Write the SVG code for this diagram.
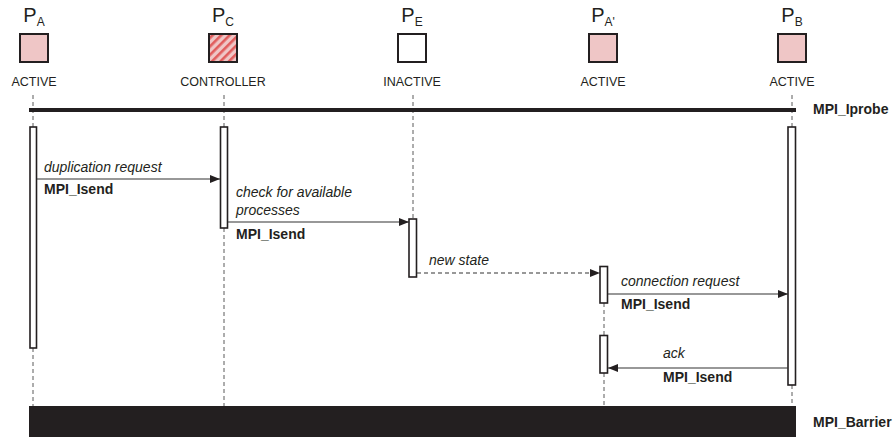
<svg xmlns="http://www.w3.org/2000/svg" width="893" height="437" viewBox="0 0 893 437">
  <style>
    .proc { stroke: #231f20; stroke-width: 2; }
    .active { fill: #efc6c6; }
    .idle { fill: #ffffff; }
    .pname { font-family: "Liberation Sans", Arial, sans-serif; font-size: 20px; fill: #231f20; }
    .state { font-family: "Liberation Sans", Arial, sans-serif; font-size: 12.5px; fill: #231f20; }
    .msg { font-family: "Liberation Sans", Arial, sans-serif; font-size: 14px; font-style: italic; fill: #231f20; }
    .call { font-family: "Liberation Sans", Arial, sans-serif; font-size: 14px; font-weight: bold; fill: #231f20; }
    .life { stroke: #5a5a5a; stroke-width: 1; stroke-dasharray: 4 3; fill: none; }
    .bar { fill: #ffffff; stroke: #231f20; stroke-width: 1.6; }
    .arrow { stroke: #333333; stroke-width: 1.2; fill: none; marker-end: url(#head); }
    .dashed { stroke-dasharray: 4 3; }
  </style>
  <defs>
    <marker id="head" viewBox="0 0 10 8" refX="10" refY="4" markerWidth="10" markerHeight="8" markerUnits="userSpaceOnUse" orient="auto">
      <path d="M0,0 L10,4 L0,8 Z" fill="#231f20"/>
    </marker>
    <pattern id="hatch" width="6" height="6" patternUnits="userSpaceOnUse" patternTransform="rotate(45)">
      <rect width="6" height="6" fill="#efc6c6"/>
      <rect width="2.6" height="6" fill="#e05c5c"/>
    </pattern>
  </defs>

  <!-- processes -->
  <g id="pa">
    <text class="pname" x="34" y="22" text-anchor="middle">P<tspan font-size="12" dy="4">A</tspan></text>
    <rect class="proc active" x="20" y="34" width="28" height="28"/>
    <text class="state" x="34" y="86" text-anchor="middle">ACTIVE</text>
  </g>
  <g id="pc">
    <text class="pname" x="223" y="22" text-anchor="middle">P<tspan font-size="12" dy="4">C</tspan></text>
    <rect class="proc" x="209" y="34" width="28" height="28" fill="url(#hatch)"/>
    <text class="state" x="223" y="86" text-anchor="middle">CONTROLLER</text>
  </g>
  <g id="pe">
    <text class="pname" x="412" y="22" text-anchor="middle">P<tspan font-size="12" dy="4">E</tspan></text>
    <rect class="proc idle" x="398" y="34" width="28" height="28"/>
    <text class="state" x="412" y="86" text-anchor="middle">INACTIVE</text>
  </g>
  <g id="pa2">
    <text class="pname" x="603" y="22" text-anchor="middle">P<tspan font-size="12" dy="4">A'</tspan></text>
    <rect class="proc active" x="589" y="34" width="28" height="28"/>
    <text class="state" x="603" y="86" text-anchor="middle">ACTIVE</text>
  </g>
  <g id="pb">
    <text class="pname" x="792" y="22" text-anchor="middle">P<tspan font-size="12" dy="4">B</tspan></text>
    <rect class="proc active" x="778" y="34" width="28" height="28"/>
    <text class="state" x="792" y="86" text-anchor="middle">ACTIVE</text>
  </g>

  <!-- lifelines -->
  <g id="lifelines">
    <line class="life" x1="33" y1="95" x2="33" y2="127"/>
    <line class="life" x1="33" y1="348" x2="33" y2="406"/>
    <line class="life" x1="224" y1="95" x2="224" y2="127"/>
    <line class="life" x1="224" y1="228" x2="224" y2="406"/>
    <line class="life" x1="413" y1="95" x2="413" y2="219"/>
    <line class="life" x1="604" y1="303" x2="604" y2="335"/>
    <line class="life" x1="604" y1="373" x2="604" y2="406"/>
    <line class="life" x1="792" y1="95" x2="792" y2="127"/>
    <line class="life" x1="792" y1="385" x2="792" y2="406"/>
  </g>

  <!-- synchronisation -->
  <g id="iprobe">
    <rect x="29" y="108" width="767" height="4" fill="#231f20"/>
    <text class="call" x="813" y="114">MPI_Iprobe</text>
  </g>
  <g id="barrier">
    <rect x="29" y="406" width="767" height="31" fill="#231f20"/>
    <text class="call" x="813" y="427">MPI_Barrier</text>
  </g>

  <!-- activations -->
  <g id="activations">
    <rect class="bar" x="30" y="127" width="6.5" height="221"/>
    <rect class="bar" x="220.5" y="127" width="7" height="101"/>
    <rect class="bar" x="409" y="219" width="7.5" height="58"/>
    <rect class="bar" x="600" y="266.5" width="7.5" height="36.5"/>
    <rect class="bar" x="600" y="335.5" width="7.5" height="37.5"/>
    <rect class="bar" x="788" y="127" width="7.5" height="258"/>
  </g>

  <!-- messages -->
  <g id="connectors">
    <line class="arrow" x1="37" y1="179" x2="220" y2="179"/>
    <line class="arrow" x1="228" y1="222" x2="409" y2="222"/>
    <line class="arrow dashed" x1="417" y1="273" x2="600" y2="273"/>
    <line class="arrow" x1="608" y1="294" x2="788" y2="294"/>
    <line class="arrow" x1="788" y1="368" x2="608" y2="368"/>
  </g>

  <g id="labels">
    <text class="msg" x="44" y="172">duplication request</text>
    <text class="call" x="44" y="194">MPI_Isend</text>
    <text class="msg" x="236" y="197">check for available</text>
    <text class="msg" x="236" y="215">processes</text>
    <text class="call" x="236" y="239">MPI_Isend</text>
    <text class="msg" x="429" y="265">new state</text>
    <text class="msg" x="621" y="286">connection request</text>
    <text class="call" x="621" y="309">MPI_Isend</text>
    <text class="msg" x="663" y="358">ack</text>
    <text class="call" x="663" y="382">MPI_Isend</text>
  </g>
</svg>
